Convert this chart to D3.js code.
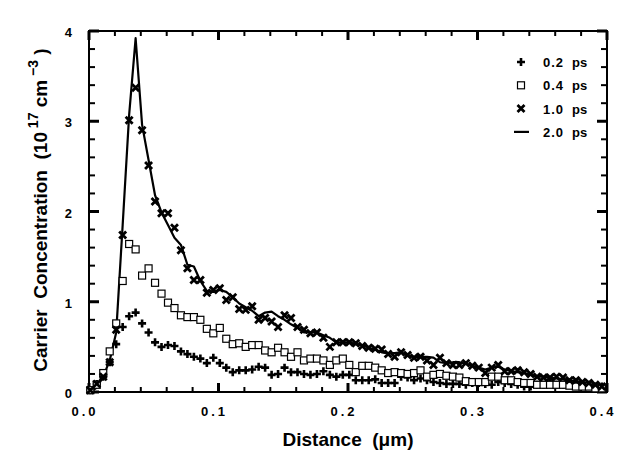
<!DOCTYPE html>
<html lang="en">
<head>
  <meta charset="UTF-8" />
  <title>Carrier Concentration</title>
  <style>
    body { margin: 0; background: #fff; }
    svg { display: block; font-family: 'Liberation Sans', Arial, sans-serif; }
    .tick-label { font-size: 13px; font-weight: bold; fill: #000; }
    .axis-title { font-size: 19px; font-weight: bold; fill: #000; }
  </style>
</head>
<body>
  <div id="chart"></div>

  <script src="https://d3js.org/d3.v7.min.js"></script>
  <script>
    // distance grid (um)
    const dist = [
      0.001, 0.006, 0.011, 0.016, 0.021, 0.026, 0.031, 0.036, 0.041, 0.046,
      0.051, 0.056, 0.061, 0.066, 0.071, 0.076, 0.081, 0.086, 0.091, 0.096,
      0.101, 0.106, 0.111, 0.116, 0.121, 0.126, 0.131, 0.136, 0.141, 0.146,
      0.151, 0.156, 0.161, 0.166, 0.171, 0.176, 0.181, 0.186, 0.191, 0.196,
      0.201, 0.206, 0.211, 0.216, 0.221, 0.226, 0.231, 0.236, 0.241, 0.246,
      0.251, 0.256, 0.261, 0.266, 0.271, 0.276, 0.281, 0.286, 0.291, 0.296,
      0.301, 0.306, 0.311, 0.316, 0.321, 0.326, 0.331, 0.336, 0.341, 0.346,
      0.351, 0.356, 0.361, 0.366, 0.371, 0.376, 0.381, 0.386, 0.391, 0.396
    ];

    // 0.2 ps (plus)
    const ps02 = [
      0.02, 0.09, 0.17, 0.33, 0.53, 0.72, 0.84, 0.88, 0.76, 0.66,
      0.55, 0.50, 0.52, 0.51, 0.45, 0.42, 0.39, 0.37, 0.32, 0.38,
      0.32, 0.27, 0.22, 0.24, 0.24, 0.25, 0.28, 0.27, 0.19, 0.20,
      0.27, 0.22, 0.22, 0.20, 0.19, 0.20, 0.23, 0.19, 0.17, 0.19,
      0.19, 0.13, 0.13, 0.13, 0.14, 0.10, 0.10, 0.10, 0.17, 0.16,
      0.13, 0.15, 0.13, 0.11, 0.10, 0.09, 0.09, 0.09, 0.08, 0.10,
      0.10, 0.09, 0.08, 0.11, 0.10, 0.09, 0.08, 0.06, 0.06, 0.08,
      0.08, 0.10, 0.08, 0.08, 0.08, 0.08, 0.08, 0.08, 0.06, 0.06
    ];

    // 0.4 ps (open square)
    const ps04 = [
      0.02, 0.08, 0.21, 0.45, 0.76, 1.23, 1.64, 1.58, 1.29, 1.37,
      1.21, 1.09, 0.99, 0.93, 0.85, 0.83, 0.83, 0.80, 0.70, 0.65,
      0.71, 0.59, 0.53, 0.54, 0.50, 0.52, 0.52, 0.46, 0.44, 0.49,
      0.44, 0.39, 0.44, 0.35, 0.37, 0.37, 0.35, 0.30, 0.35, 0.37,
      0.30, 0.22, 0.29, 0.29, 0.27, 0.24, 0.21, 0.22, 0.21, 0.20,
      0.21, 0.24, 0.17, 0.19, 0.20, 0.18, 0.17, 0.16, 0.12, 0.11,
      0.11, 0.11, 0.17, 0.17, 0.13, 0.13, 0.11, 0.10, 0.10, 0.08,
      0.08, 0.08, 0.08, 0.08, 0.07, 0.06, 0.06, 0.06, 0.04, 0.04
    ];

    // 1.0 ps (cross)
    const ps10 = [
      0.02, 0.09, 0.17, 0.33, 0.69, 1.74, 3.01, 3.37, 2.90, 2.51,
      2.11, 1.98, 1.98, 1.82, 1.57, 1.37, 1.24, 1.24, 1.10, 1.13,
      1.15, 1.02, 1.05, 0.92, 0.91, 0.95, 0.80, 0.82, 0.78, 0.72,
      0.85, 0.82, 0.72, 0.69, 0.65, 0.66, 0.60, 0.50, 0.55, 0.55,
      0.55, 0.54, 0.51, 0.49, 0.48, 0.47, 0.42, 0.39, 0.44, 0.41,
      0.38, 0.39, 0.35, 0.30, 0.38, 0.32, 0.30, 0.30, 0.32, 0.29,
      0.27, 0.21, 0.27, 0.30, 0.23, 0.23, 0.24, 0.22, 0.20, 0.17,
      0.16, 0.16, 0.17, 0.16, 0.13, 0.13, 0.11, 0.10, 0.08, 0.06
    ];

    // 2.0 ps (solid line)
    const ps20 = [
      0.00, 0.05, 0.17, 0.35, 0.66, 1.85, 3.07, 3.92, 2.96, 2.57,
      2.18, 1.99, 1.85, 1.71, 1.63, 1.41, 1.39, 1.23, 1.12, 1.11,
      1.13, 1.11, 1.05, 0.98, 0.94, 0.90, 0.84, 0.88, 0.89, 0.84,
      0.80, 0.75, 0.71, 0.66, 0.66, 0.66, 0.63, 0.60, 0.55, 0.55,
      0.55, 0.53, 0.52, 0.49, 0.47, 0.44, 0.43, 0.43, 0.44, 0.40,
      0.39, 0.39, 0.39, 0.38, 0.33, 0.32, 0.33, 0.33, 0.31, 0.29,
      0.27, 0.25, 0.27, 0.28, 0.25, 0.23, 0.22, 0.21, 0.19, 0.17,
      0.17, 0.16, 0.15, 0.14, 0.13, 0.12, 0.11, 0.10, 0.08, 0.06
    ];

    const xTicks = [0.0, 0.1, 0.2, 0.3, 0.4];
    const yTicks = [0, 1, 2, 3, 4];
    const legendLabels = ["0.2", "0.4", "1.0", "2.0"];

    const width = 642, height = 471;
    const margin = { top: 31, right: 35, bottom: 79, left: 89 };

    const svg = d3.select("#chart").append("svg")
      .attr("width", width)
      .attr("height", height);

    const x = d3.scaleLinear().domain([0, 0.4]).range([margin.left, width - margin.right]);
    const y = d3.scaleLinear().domain([0, 4]).range([height - margin.bottom, margin.top]);

    const x0 = x(0), x1 = x(0.4), y0 = y(0), y1 = y(4);

    // frame
    svg.append("rect")
      .attr("x", x0).attr("y", y1)
      .attr("width", x1 - x0).attr("height", y0 - y1)
      .attr("fill", "none").attr("stroke", "#000").attr("stroke-width", 2);

    // ticks pointing inward on all four sides
    const ticks = svg.append("g").attr("stroke", "#000");
    d3.range(0, 21).forEach(i => {
      const v = i * 0.02;
      const major = i % 5 === 0;
      const len = major ? 9 : 5;
      const sw = major ? 3 : 2;
      ticks.append("line").attr("x1", x(v)).attr("x2", x(v))
        .attr("y1", y0).attr("y2", y0 - len).attr("stroke-width", sw);
      ticks.append("line").attr("x1", x(v)).attr("x2", x(v))
        .attr("y1", y1).attr("y2", y1 + len).attr("stroke-width", sw);
    });
    d3.range(0, 21).forEach(i => {
      const v = i * 0.2;
      const major = i % 5 === 0;
      const len = major ? 10 : 6;
      const sw = major ? 3 : 2;
      ticks.append("line").attr("y1", y(v)).attr("y2", y(v))
        .attr("x1", x0).attr("x2", x0 + len).attr("stroke-width", sw);
      ticks.append("line").attr("y1", y(v)).attr("y2", y(v))
        .attr("x1", x1).attr("x2", x1 - len).attr("stroke-width", sw);
    });

    // tick labels
    svg.selectAll(".xl").data(xTicks).enter().append("text")
      .attr("class", "tick-label")
      .attr("x", d => x(d) - 4)
      .attr("y", 416)
      .attr("text-anchor", "middle")
      .style("letter-spacing", "3px")
      .text(d => d3.format(".1f")(d));

    svg.selectAll(".yl").data(yTicks).enter().append("text")
      .attr("class", "tick-label")
      .attr("x", x0 - 17)
      .attr("y", d => y(d) + 6)
      .attr("text-anchor", "end")
      .text(d => d);

    // axis titles
    svg.append("text")
      .attr("class", "axis-title")
      .attr("x", 348).attr("y", 446)
      .attr("text-anchor", "middle")
      .attr("xml:space", "preserve")
      .text("Distance  (\u03bcm)");

    const yt = svg.append("text")
      .attr("class", "axis-title")
      .attr("transform", "translate(47,210) rotate(-90)")
      .attr("text-anchor", "middle")
      .attr("xml:space", "preserve");
    yt.append("tspan").text("Carrier  Concentration  (10");
    yt.append("tspan").attr("dy", -9).style("font-size", "14px").text(" 17");
    yt.append("tspan").attr("dy", 9).text(" cm");
    yt.append("tspan").attr("dy", -9).style("font-size", "14px").text(" \u22123");
    yt.append("tspan").attr("dy", 9).text(" )");

    // symbol drawers
    function drawPlus(g, cx, cy) {
      g.append("path").attr("d", `M${cx - 4},${cy}H${cx + 4}M${cx},${cy - 4}V${cy + 4}`)
        .attr("stroke", "#000").attr("stroke-width", 2.6).attr("fill", "none");
    }
    function drawSquare(g, cx, cy) {
      g.append("rect").attr("x", cx - 3.5).attr("y", cy - 3.5)
        .attr("width", 7).attr("height", 7)
        .attr("fill", "#fff").attr("stroke", "#000").attr("stroke-width", 1.2);
    }
    function drawCross(g, cx, cy) {
      g.append("path").attr("d", `M${cx - 3.5},${cy - 3.5}L${cx + 3.5},${cy + 3.5}M${cx + 3.5},${cy - 3.5}L${cx - 3.5},${cy + 3.5}`)
        .attr("stroke", "#000").attr("stroke-width", 2.8).attr("fill", "none");
    }

    const plot = svg.append("g");

    const pts = vals => dist.map((d, i) => [d, vals[i]]);

    // 2.0 ps line
    plot.append("path")
      .datum(pts(ps20))
      .attr("d", d3.line().x(d => x(d[0])).y(d => y(d[1])))
      .attr("fill", "none")
      .attr("stroke", "#000")
      .attr("stroke-width", 2.2)
      .attr("stroke-linejoin", "round");

    const gPlus = plot.append("g");
    pts(ps02).forEach(d => drawPlus(gPlus, x(d[0]), y(d[1])));
    const gSq = plot.append("g");
    pts(ps04).forEach(d => drawSquare(gSq, x(d[0]), y(d[1])));
    const gX = plot.append("g");
    pts(ps10).forEach(d => drawCross(gX, x(d[0]), y(d[1])));

    // legend
    const legend = svg.append("g");
    const drawers = [drawPlus, drawSquare, drawCross, null];
    legendLabels.forEach((lab, i) => {
      const ly = 62 + i * 23.3;
      if (drawers[i]) {
        drawers[i](legend, 521, ly);
      } else {
        legend.append("line").attr("x1", 514).attr("x2", 529)
          .attr("y1", ly).attr("y2", ly)
          .attr("stroke", "#000").attr("stroke-width", 2.2);
      }
      legend.append("text").attr("class", "tick-label")
        .attr("x", 543).attr("y", ly + 5)
        .style("letter-spacing", "1px")
        .text(lab);
      legend.append("text").attr("class", "tick-label")
        .attr("x", 572).attr("y", ly + 5)
        .text("ps");
    });
  </script>
</body>
</html>
